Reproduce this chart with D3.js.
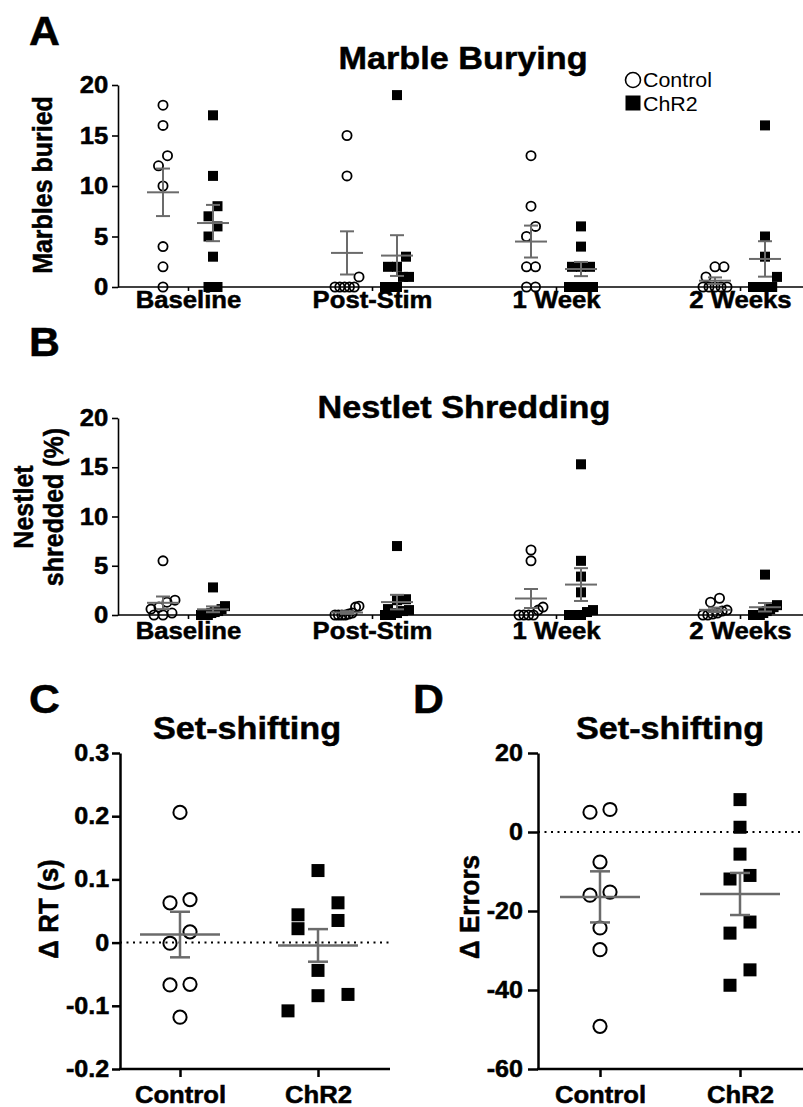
<!DOCTYPE html>
<html><head><meta charset="utf-8">
<script src="https://cdn.jsdelivr.net/npm/d3@7"></script>
<style>body{margin:0;background:#fff}svg{display:block}</style>
</head><body><svg id="c" width="803" height="1107"></svg>
<script>
// ---------- data ----------
const timepoints = ["Baseline", "Post-Stim", "1 Week", "2 Weeks"];
const groups = ["Control", "ChR2"];
const marbleControl = [[18,16,13,12,10,4,2,0],[15,11,1,0,0,0,0,0],[13,8,6,5,2,2,0,0],[2,2,1,0,0,0,0,0]];
const marbleChR2 = [[17,11,8,7,6,5,3,0,0],[19,3,2,2,1,1,0,0,0],[6,4,2,2,2,0,0,0,0],[16,5,3,1,0,0,0,0,0]];
const nestletControl = [[5.5,1.5,1.3,0.8,0.6,0.2,0,0],[0.9,0.8,0.2,0.1,0,0,0,0],[6.6,5.5,0.8,0.5,0,0,0,0],[1.7,1.3,0.5,0.4,0.2,0.1,0,0]];
const nestletChR2 = [[2.8,0.9,0.6,0.4,0.3,0.2,0,0,0],[7.0,1.6,1.5,0.6,0.5,0.4,0.2,0,0],[15.3,5.5,3.9,2.3,0.5,0.3,0,0,0],[4.1,1.0,0.8,0.6,0.4,0.2,0,0,0]];
const rtControl = [0.206,0.068,0.063,0.017,-0.001,-0.066,-0.067,-0.118];
const rtChR2 = [0.114,0.063,0.044,0.035,0.022,-0.044,-0.082,-0.084,-0.108];
const errControl = [5.7,5.0,-7.6,-15.2,-16.0,-24.3,-29.8,-49.2];
const errChR2 = [8.2,1.2,-5.6,-11.9,-11.0,-22.8,-25.6,-34.9,-38.8];
const ticksAB = [0,5,10,15,20];
const ticksC = [-0.2,-0.1,0,0.1,0.2,0.3];
const ticksD = [-60,-40,-20,0,20];

// ---------- helpers ----------
const SX = 1.07;
const FONT = '"Liberation Sans", Arial, Helvetica, sans-serif';
const GREY = "#6b6b6b";
const svg = d3.select("#c");

function label(x, y, s, size, opts = {}) {
  const bold = (opts.weight || "bold") === "bold";
  return svg.append("text")
    .attr("transform", `translate(${x},${y}) scale(${SX},1)` + (opts.rotate ? " rotate(-90)" : ""))
    .attr("text-anchor", opts.anchor || "middle")
    .attr("font-family", FONT)
    .attr("font-size", size)
    .attr("font-weight", opts.weight || "bold")
    .attr("fill", "#000")
    .attr("stroke", bold ? "#000" : "none")
    .attr("stroke-width", bold ? 0.5 : 0)
    .text(s);
}

function layout(values, y, thresh, spacing, maxSpread) {
  const pts = values.map(v => ({ v, py: y(v) })).sort((a, b) => a.py - b.py);
  const rows = [];
  pts.forEach(p => {
    const r = rows[rows.length - 1];
    if (r && p.py - r[0].py < thresh) r.push(p); else rows.push([p]);
  });
  rows.forEach(r => {
    r.sort((a, b) => a.v - b.v);
    const k = r.length;
    const s = k > 1 ? Math.min(spacing, maxSpread / (k - 1)) : 0;
    r.forEach((p, i) => p.dx = (i - (k - 1) / 2) * s);
  });
  return pts;
}
const sem = v => d3.deviation(v) / Math.sqrt(v.length);

function drawPoints(g, pts, cx, kind, size, sw) {
  if (kind === "circle") {
    g.append("g").selectAll("circle").data(pts).join("circle")
      .attr("cx", d => cx + d.dx).attr("cy", d => d.py).attr("r", size)
      .attr("fill", "none").attr("stroke", "#000").attr("stroke-width", sw);
  } else {
    g.append("g").selectAll("rect").data(pts).join("rect")
      .attr("x", d => cx + d.dx - size / 2).attr("y", d => d.py - size / 2)
      .attr("width", size).attr("height", size).attr("fill", "#000");
  }
}

function drawErr(g, vals, cx, y, hw, cw, sw) {
  const m = d3.mean(vals), e = sem(vals);
  const eg = g.append("g").attr("stroke", GREY).attr("stroke-width", sw).attr("fill", "none");
  eg.append("line").attr("x1", cx - hw).attr("x2", cx + hw).attr("y1", y(m)).attr("y2", y(m));
  eg.append("line").attr("x1", cx).attr("x2", cx).attr("y1", y(m - e)).attr("y2", y(m + e));
  eg.append("line").attr("x1", cx - cw).attr("x2", cx + cw).attr("y1", y(m + e)).attr("y2", y(m + e));
  eg.append("line").attr("x1", cx - cw).attr("x2", cx + cw).attr("y1", y(m - e)).attr("y2", y(m - e));
}

function styleAxis(a, size, sw) {
  a.attr("font-family", FONT).attr("font-size", size).attr("font-weight", "bold");
  a.selectAll("path,line").attr("stroke", "#000").attr("stroke-width", sw);
  a.selectAll("text").attr("fill", "#000").attr("stroke", "#000").attr("stroke-width", 0.5)
    .attr("transform", `scale(${SX},1)`);
}

// ---------- grouped panels (A, B) ----------
function groupedPanel(cfg) {
  const y = d3.scaleLinear([0, 20], [cfg.y0, cfg.y20]);
  const x = d3.scalePoint(timepoints, [188, 740]);
  const off = d3.scalePoint(groups, [-25, 25]);
  const g = svg.append("g");
  const ya = g.append("g").attr("transform", `translate(${cfg.axisX},0)`)
    .call(d3.axisLeft(y).tickValues(ticksAB).tickSize(6).tickPadding(3).tickSizeOuter(0));
  styleAxis(ya, 24, 1.6);
  const xa = g.append("g").attr("transform", `translate(0,${cfg.y0})`)
    .call(d3.axisBottom(x).tickSize(4).tickPadding(cfg.xpad).tickSizeOuter(0));
  xa.select(".domain").remove();
  styleAxis(xa, 24, 1.6);
  g.append("line").attr("x1", cfg.axisX).attr("x2", 803).attr("y1", cfg.y0).attr("y2", cfg.y0)
    .attr("stroke", "#000").attr("stroke-width", 1.6);

  timepoints.forEach((t, i) => {
    const cxC = x(t) + off("Control"), cxR = x(t) + off("ChR2");
    drawPoints(g, layout(cfg.ctrl[i], y, cfg.thresh, 9, 24), cxC, "circle", 4.6, 1.8);
    drawPoints(g, layout(cfg.chr[i], y, cfg.thresh, 9, 24), cxR, "rect", 10);
    drawErr(g, cfg.ctrl[i], cxC, y, 16, 7, 2);
    drawErr(g, cfg.chr[i], cxR, y, 16, 7, 2);
  });
}

groupedPanel({ y0: 287, y20: 85, axisX: 118, xpad: 0, thresh: 10.5, ctrl: marbleControl, chr: marbleChR2 });
groupedPanel({ y0: 615, y20: 418, axisX: 118, xpad: 3, thresh: 10, ctrl: nestletControl, chr: nestletChR2 });

label(29, 45, "A", 40, { anchor: "start" });
label(463, 69, "Marble Burying", 32);
label(52, 185, "Marbles buried", 25, { rotate: true });
// legend
svg.append("circle").attr("cx", 633).attr("cy", 80).attr("r", 7.5).attr("fill", "none").attr("stroke", "#000").attr("stroke-width", 1.6);
svg.append("rect").attr("x", 625.5).attr("y", 95.5).attr("width", 15).attr("height", 15).attr("fill", "#000");
label(643, 87, groups[0], 20, { anchor: "start", weight: "normal" });
label(643, 111, groups[1], 20, { anchor: "start", weight: "normal" });

label(29, 356, "B", 40, { anchor: "start" });
label(464, 418, "Nestlet Shredding", 32);
label(33, 507, "Nestlet", 25, { rotate: true });
label(63, 507, "shredded (%)", 25, { rotate: true });

// ---------- two-group panels (C, D) ----------
function twoPanel(cfg) {
  const y = d3.scaleLinear(cfg.domain, [1069, 753]);
  const x = d3.scalePoint(groups, cfg.xr);
  const g = svg.append("g");
  g.append("line").attr("x1", cfg.axisX).attr("x2", cfg.xEnd).attr("y1", y(0)).attr("y2", y(0))
    .attr("stroke", "#000").attr("stroke-width", 2).attr("stroke-dasharray", "2,4.5");
  const ya = g.append("g").attr("transform", `translate(${cfg.axisX},0)`)
    .call(d3.axisLeft(y).tickValues(cfg.ticks).tickFormat(d => String(d)).tickSize(cfg.tick).tickPadding(cfg.pad).tickSizeOuter(0));
  styleAxis(ya, 23.5, 2.5);
  const xa = g.append("g").attr("transform", `translate(0,1069)`)
    .call(d3.axisBottom(x).tickSize(8).tickPadding(9).tickSizeOuter(0));
  xa.select(".domain").remove();
  styleAxis(xa, 24, 2.5);
  g.append("line").attr("x1", cfg.axisX - 1).attr("x2", cfg.xEnd).attr("y1", 1069).attr("y2", 1069)
    .attr("stroke", "#000").attr("stroke-width", 2.5);
  drawPoints(g, layout(cfg.ctrl, y, 17, cfg.sp[0], 60), x("Control"), "circle", 6.6, 2);
  drawPoints(g, layout(cfg.chr, y, 17, cfg.sp[1], 60), x("ChR2"), "rect", 13);
  drawErr(g, cfg.ctrl, x("Control"), y, 40, 10, 2.5);
  drawErr(g, cfg.chr, x("ChR2"), y, 40, 10, 2.5);
}

twoPanel({ domain: [-0.2, 0.3], ticks: ticksC, xr: [180, 318], axisX: 120, xEnd: 390, tick: 8, pad: 2, sp: [20, 40], ctrl: rtControl, chr: rtChR2 });
twoPanel({ domain: [-60, 20], ticks: ticksD, xr: [600, 740], axisX: 538, xEnd: 803, tick: 10, pad: 4, sp: [20, 20], ctrl: errControl, chr: errChR2 });

label(29, 713, "C", 40, { anchor: "start" });
label(247, 739, "Set-shifting", 32);
label(58, 909, "Δ RT (s)", 26, { rotate: true });
label(413, 713, "D", 40, { anchor: "start" });
label(670, 739, "Set-shifting", 32);
label(479, 907, "Δ Errors", 26, { rotate: true });
</script>
</body></html>
